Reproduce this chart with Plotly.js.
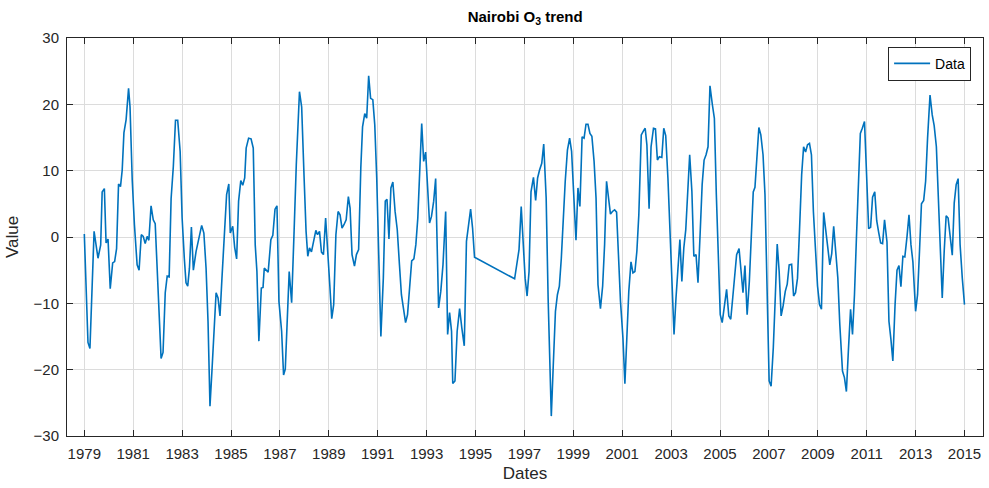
<!DOCTYPE html>
<html>
<head>
<meta charset="utf-8">
<script src="https://cdn.plot.ly/plotly-3.0.1.min.js"></script>
<style>html,body{margin:0;padding:0;background:#fff;}#chart{width:989px;height:488px;}</style>
</head>
<body>
<div id="chart"></div>
<script>
// Decimal-year dates and values
const dates = [
1979.00,1979.15,1979.23,1979.40,1979.56,1979.67,1979.73,1979.82,1979.89,1979.97,
1980.06,1980.16,1980.24,1980.32,1980.40,1980.48,1980.55,1980.62,1980.71,1980.81,1980.87,1980.96,
1981.05,1981.16,1981.24,1981.33,1981.41,1981.49,1981.57,1981.64,1981.73,1981.82,1981.90,
1982.14,1982.22,1982.31,1982.39,1982.47,1982.55,1982.64,1982.73,1982.82,1982.92,
1983.00,1983.09,1983.16,1983.23,1983.30,1983.38,1983.46,1983.57,1983.71,1983.80,1983.89,1983.98,
1984.06,1984.14,1984.22,1984.32,1984.39,1984.47,1984.55,1984.63,1984.73,1984.82,1984.91,1984.97,
1985.07,1985.15,1985.23,1985.31,1985.40,1985.48,1985.56,1985.62,1985.72,1985.82,1985.91,1985.99,
1986.06,1986.14,1986.24,1986.31,1986.36,1986.52,1986.63,1986.71,1986.80,1986.88,1986.96,
1987.07,1987.15,1987.22,1987.38,1987.48,1987.58,1987.67,1987.80,1987.89,1987.99,
1988.07,1988.14,1988.21,1988.29,1988.38,1988.47,1988.54,1988.62,1988.70,1988.78,1988.87,1988.95,
1989.04,1989.12,1989.20,1989.29,1989.38,1989.46,1989.54,1989.62,1989.71,1989.80,1989.87,1989.95,
1990.05,1990.13,1990.22,1990.31,1990.38,1990.47,1990.55,1990.63,1990.71,1990.80,1990.88,1990.96,
1991.05,1991.13,1991.23,1991.31,1991.38,1991.46,1991.54,1991.62,1991.71,1991.80,1991.89,1991.97,
1992.05,1992.14,1992.22,1992.31,1992.39,1992.48,1992.56,1992.64,1992.73,1992.80,1992.88,1992.96,
1993.04,1993.12,1993.20,1993.29,1993.37,1993.45,1993.49,1993.58,1993.67,1993.78,1993.86,1993.94,
1994.02,1994.07,1994.16,1994.25,1994.35,1994.44,1994.54,1994.63,1994.71,1994.80,1994.88,1994.96,
1996.60,1996.70,1996.78,1996.87,1996.95,
1997.03,1997.11,1997.19,1997.27,1997.37,1997.46,1997.54,1997.62,1997.71,1997.79,1997.89,1997.97,
1998.10,1998.18,1998.27,1998.35,1998.43,1998.51,1998.59,1998.67,1998.76,1998.85,1998.93,
1999.01,1999.11,1999.19,1999.27,1999.36,1999.44,1999.52,1999.60,1999.68,1999.76,1999.85,1999.93,
2000.01,2000.11,2000.20,2000.28,2000.36,2000.44,2000.52,2000.60,2000.69,2000.77,2000.85,2000.93,
2001.03,2001.11,2001.19,2001.27,2001.36,2001.44,2001.52,2001.60,2001.68,2001.78,2001.87,2001.94,
2002.01,2002.10,2002.18,2002.28,2002.36,2002.44,2002.52,2002.62,2002.70,2002.78,2002.87,2002.96,
2003.04,2003.12,2003.20,2003.29,2003.36,2003.44,2003.52,2003.60,2003.68,2003.76,2003.85,2003.93,
2004.02,2004.10,2004.18,2004.27,2004.35,2004.43,2004.51,2004.59,2004.69,2004.77,2004.85,2004.93,
2005.01,2005.09,2005.18,2005.27,2005.36,2005.44,2005.52,2005.60,2005.68,2005.78,2005.86,2005.94,
2006.02,2006.11,2006.20,2006.28,2006.36,2006.43,2006.51,2006.59,2006.67,2006.76,2006.84,2006.92,
2007.01,2007.09,2007.18,2007.26,2007.34,2007.42,2007.50,2007.58,2007.67,2007.75,2007.83,2007.93,
2008.01,2008.09,2008.17,2008.25,2008.34,2008.42,2008.50,2008.58,2008.66,2008.74,2008.82,2008.91,2008.99,
2009.07,2009.15,2009.24,2009.33,2009.41,2009.49,2009.57,2009.65,2009.73,2009.82,2009.90,
2010.01,2010.09,2010.17,2010.25,2010.34,2010.42,2010.50,2010.58,2010.66,2010.74,2010.82,2010.91,2010.99,
2011.08,2011.16,2011.24,2011.33,2011.41,2011.49,2011.57,2011.65,2011.73,2011.83,2011.91,2011.99,
2012.07,2012.16,2012.24,2012.32,2012.40,2012.48,2012.56,2012.65,2012.73,2012.81,2012.89,
2013.00,2013.08,2013.16,2013.24,2013.33,2013.41,2013.49,2013.59,2013.68,2013.76,2013.85,2013.93,
2014.01,2014.09,2014.17,2014.25,2014.33,2014.42,2014.50,2014.58,2014.66,2014.74,2014.82,2014.91,
2015.00
];
const values = [
0.45,-15.9,-16.8,0.85,-3.2,-1.2,6.8,7.3,-0.9,-0.3,
-7.8,-3.9,-3.7,-1.75,8.0,7.6,10.1,15.7,17.7,22.4,19.6,8.6,
1.85,-4.2,-5.0,0.35,0.1,-1.0,0.1,-0.5,4.7,2.6,2.0,
-18.3,-17.4,-8.4,-5.9,-6.0,5.8,10.6,17.6,17.6,12.9,
2.9,-3.2,-6.9,-7.4,-4.7,1.5,-5.0,-2.2,0.35,1.75,0.6,-4.7,
-12.7,-25.5,-20.2,-13.7,-8.4,-9.2,-11.9,-6.2,1.35,6.4,8.0,0.6,
1.6,-1.55,-3.3,5.4,8.5,7.8,8.9,13.4,14.9,14.8,13.4,-1.15,
-5.2,-15.7,-7.7,-7.6,-4.7,-5.3,-0.4,0.25,4.2,4.7,-9.7,
-14.2,-20.8,-19.9,-5.2,-9.9,0.85,10.9,21.9,19.6,8.9,
0.85,-2.9,-1.65,-2.25,-0.4,1.0,0.35,0.85,-2.3,-2.65,2.85,-1.4,
-7.2,-12.3,-10.2,0.35,3.85,3.35,1.35,1.85,2.6,6.1,4.35,-2.65,
-4.4,-2.65,-1.9,10.5,16.6,18.6,17.9,24.3,20.9,20.7,16.9,8.9,
-6.2,-15.0,-6.2,5.4,5.7,-0.3,7.4,8.3,3.9,1.1,-4.2,-8.7,
-10.7,-12.9,-11.7,-6.7,-3.6,-3.3,-1.15,2.85,10.1,17.1,11.4,12.8,
7.6,2.1,3.1,5.4,8.8,-2.15,-10.7,-8.2,-4.2,3.85,-14.7,-11.4,
-14.2,-22.1,-21.7,-14.2,-10.8,-13.7,-16.4,-0.65,2.1,4.2,1.35,-3.05,
-6.3,-3.7,-1.9,4.6,-0.15,
-6.2,-8.9,-5.2,6.8,9.0,5.5,8.9,10.1,11.1,14.0,5.9,-9.2,
-27.0,-19.4,-11.2,-8.7,-7.4,-3.2,3.85,8.4,13.1,14.9,12.9,
6.9,-0.5,7.4,4.6,15.1,14.9,17.0,17.0,15.6,15.2,11.4,5.9,
-7.2,-10.8,-7.4,-1.15,8.4,5.9,3.45,3.85,4.1,3.75,-2.65,-9.7,
-15.2,-22.1,-15.2,-8.2,-3.75,-5.4,-5.2,-2.15,3.35,15.4,16.0,16.4,
13.9,4.25,13.6,16.4,16.3,11.6,12.1,12.0,16.4,15.3,8.9,-0.15,
-6.7,-14.7,-9.2,-3.2,-0.4,-6.7,-1.65,1.1,6.6,12.4,6.9,-2.9,
-2.65,-6.9,-0.15,7.9,11.6,12.4,13.6,22.8,19.9,17.9,6.4,-4.7,
-11.7,-12.9,-10.2,-7.9,-11.9,-12.4,-9.2,-5.7,-2.65,-1.75,-4.7,-8.4,
-4.3,-11.7,-6.7,-0.15,6.8,7.5,12.1,16.5,15.4,12.4,6.4,-5.7,
-21.7,-22.5,-16.7,-9.2,-1.05,-5.2,-11.9,-10.4,-8.2,-7.1,-4.2,-4.1,
-8.9,-8.4,-6.2,0.85,9.4,13.6,12.8,13.9,14.1,12.4,3.85,-2.15,-7.4,
-10.2,-10.9,3.7,1.25,-1.65,-4.2,-2.5,1.6,-1.65,-6.2,-13.2,
-20.2,-21.2,-23.3,-17.2,-10.9,-14.7,-8.7,-0.15,9.4,15.6,16.4,17.4,9.9,
1.25,1.45,6.0,6.8,2.45,0.7,-0.9,-1.0,2.6,-0.75,-12.7,-15.4,
-18.7,-10.2,-5.0,-4.3,-7.5,-2.9,-3.0,0.1,3.35,-1.15,-3.75,
-11.2,-8.7,-2.15,5.0,5.5,8.4,14.9,21.4,18.4,16.8,13.6,6.4,
-1.15,-9.2,-2.15,3.2,2.85,-0.65,-2.75,5.1,7.9,8.8,-1.15,-6.2,
-10.2
];
const xTickVals = [1979,1981,1983,1985,1987,1989,1991,1993,1995,1997,1999,2001,2003,2005,2007,2009,2011,2013,2015];
const xTickText = xTickVals.map(String);
const yTickVals = [-30,-20,-10,0,10,20,30];

const axisCommon = {
  showline: true, linecolor: '#262626', linewidth: 1, mirror: 'ticks',
  ticks: 'inside', ticklen: 6, tickcolor: '#262626', tickwidth: 1,
  showgrid: true, gridcolor: '#dcdcdc', gridwidth: 1, zeroline: false,
  tickfont: {family: 'Liberation Sans, Arial, sans-serif', size: 15, color: '#262626'}
};

const trace = {
  x: dates, y: values, type: 'scatter', mode: 'lines', name: 'Data',
  line: {color: '#0072BD', width: 1.6}
};

const layout = {
  width: 989, height: 488,
  margin: {l: 67, r: 6, t: 38, b: 52},
  paper_bgcolor: '#ffffff', plot_bgcolor: '#ffffff',
  title: {text: '<b>Nairobi O<sub>3</sub> trend</b>', x: 0.531, xanchor: 'center', y: 0.965, yanchor: 'middle',
          font: {family: 'Liberation Sans, Arial, sans-serif', size: 15, color: '#000'}},
  xaxis: Object.assign({}, axisCommon, {
    range: [1978.292, 2015.757], tickvals: xTickVals, ticktext: xTickText,
    ticklabelstandoff: 4,
    title: {text: 'Dates', standoff: 6, font: {family: 'Liberation Sans, Arial, sans-serif', size: 17, color: '#262626'}}
  }),
  yaxis: Object.assign({}, axisCommon, {
    range: [-30, 30], tickvals: yTickVals, ticklabelstandoff: 4,
    title: {text: 'Value', standoff: 10, font: {family: 'Liberation Sans, Arial, sans-serif', size: 17, color: '#262626'}}
  }),
  showlegend: true,
  legend: {x: 0.987, xanchor: 'right', y: 0.978, yanchor: 'top',
           bgcolor: '#ffffff', bordercolor: '#262626', borderwidth: 1,
           font: {family: 'Liberation Sans, Arial, sans-serif', size: 14, color: '#000'},
           itemwidth: 36, tracegroupgap: 0}
};

Plotly.newPlot('chart', [trace], layout, {displayModeBar: false, staticPlot: true});
</script>
</body>
</html>
